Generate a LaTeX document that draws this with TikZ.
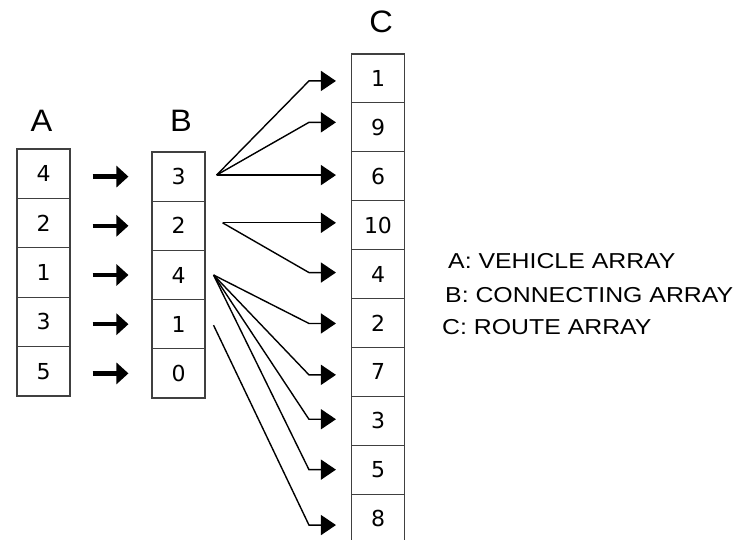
\documentclass[tikz,border=0pt]{standalone}
\usepackage{fontspec}
\setmainfont{Liberation Sans}
\newfontfamily\digitfont{DejaVu Sans}
\newfontfamily\legendfont[FakeStretch=1.15]{Liberation Sans}
\newfontfamily\titlefont[FakeStretch=1.05]{Liberation Sans}
\usetikzlibrary{arrows.meta,calc}
\begin{document}
\begin{tikzpicture}[x=1pt,y=-1pt,
  cell/.style={draw=black!75, line width=1.1pt, minimum width=53pt, inner sep=0pt,
    font=\digitfont\fontsize{22}{22}\selectfont},
  title/.style={font=\titlefont\fontsize{31}{31}\selectfont, inner sep=0pt},
  legend/.style={font=\legendfont\fontsize{21.6}{22}\selectfont, inner sep=0pt, anchor=base west},
  heavy/.style={line width=4.5pt, -{Triangle[length=12pt,width=21pt]}},
  link/.style={line width=1.4pt, -{Triangle[length=15pt,width=20pt]}}]
\useasboundingbox (0,0) rectangle (747,540);
\fill[white] (0,0) rectangle (747,540);
% arrays
\foreach \v [count=\i] in {4,2,1,3,5}
  \node[cell, minimum height=49.4pt] (a\i) at (43.5,{149+49.4*\i-24.7}) {\v};
\foreach \v [count=\i] in {3,2,4,1,0}
  \node[cell, minimum height=49.2pt] (b\i) at (178.5,{152+49.2*\i-24.6}) {\v};
\foreach \v [count=\i] in {1,9,6,10,4,2,7,3,5,8}
  \node[cell, minimum height=48.9pt] (c\i) at (378,{54+48.9*\i-24.45}) {\v};
% titles
\node[title] (la) at (41.5,120.5) {A};
\node[title] (lb) at (181,120.5) {B};
\node[title] (lc) at (381,22) {C};
% heavy arrows A -> B
\foreach \i in {1,...,5}
  \draw[heavy, shorten <=22pt, shorten >=23pt] (a\i.east |- b\i.west) -- (b\i.west);
% sources
\coordinate (s1) at ($(b1.east)+(11,-1.5)$);
\coordinate (s2) at ($(b2.east)+(17,-3)$);
\coordinate (s3) at ($(b3.east)+(8,0)$);
\coordinate (s4) at ($(b4.east)+(8,1)$);
% targets
\coordinate (t1) at ($(c1.west)+(-15,2.5)$);
\coordinate (t2) at ($(c2.west)+(-15,-5)$);
\coordinate (t3) at ($(c3.west)+(-15,0)$);
\coordinate (t4) at ($(c4.west)+(-15,0)$);
\coordinate (t5) at ($(c5.west)+(-15,-1.5)$);
\coordinate (t6) at ($(c6.west)+(-15,0.5)$);
\coordinate (t7) at ($(c7.west)+(-15,3)$);
\coordinate (t8) at ($(c8.west)+(-15,-1.5)$);
\coordinate (t9) at ($(c9.west)+(-15,0)$);
\coordinate (t10) at ($(c10.west)+(-15,6.5)$);
% links B -> C
\foreach \s/\t in {s1/t1,s1/t2,s2/t5,s3/t6,s3/t7,s3/t8,s3/t9,s4/t10}
  \draw[link] (\s) -- ($(\t)+(-27,0)$) -- (\t);
\draw[link] (s1) -- (s1 -| t3);
\draw[link] (s2) -- (s2 -| t4);
% legend
\node[legend] (l1) at (448,269) {A: VEHICLE ARRAY};
\node[legend] (l2) at (445,302) {B: CONNECTING ARRAY};
\node[legend] (l3) at (442,334) {C: ROUTE ARRAY};
\end{tikzpicture}
\end{document}
